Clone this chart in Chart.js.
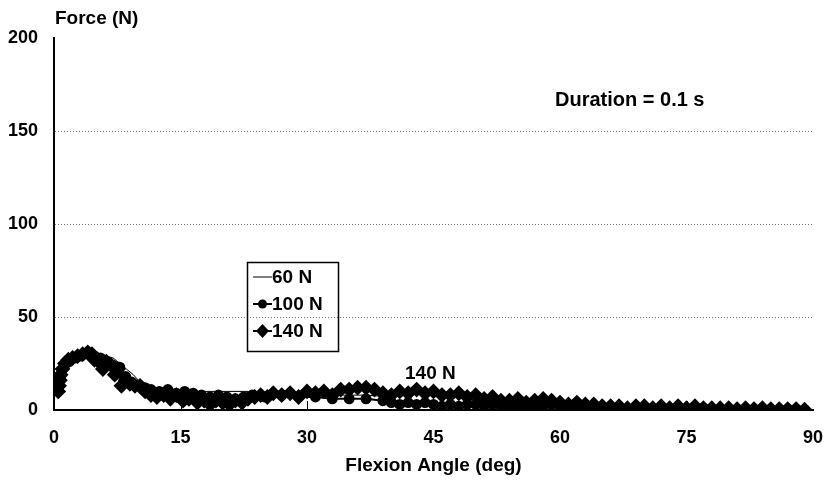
<!DOCTYPE html>
<html>
<head>
<meta charset="utf-8">
<script src="https://cdn.jsdelivr.net/npm/chart.js@4.4.1/dist/chart.umd.min.js"></script>
<style>
  html, body { margin: 0; padding: 0; background: #fff; }
</style>
</head>
<body>
<canvas id="forceChart" width="828" height="485"></canvas>
<script>
// ---- data (flexion angle in deg, force in N) ----
const xTicks = [0, 15, 30, 45, 60, 75, 90];
const yTicks = [0, 50, 100, 150, 200];

const angle60 = [0.5, 0.8, 1.2, 1.8, 2.5, 3.2, 4.0, 5.0, 5.6, 6.2, 7.0, 7.8, 8.6, 9.4, 10, 11, 12, 13, 14, 15, 23, 23.5, 25, 28, 31, 34, 37, 40, 41, 45, 48, 50, 55, 56, 60, 61, 65, 70, 75, 80, 85, 89];
const force60 = [11, 17, 22, 25, 27, 29, 30, 31, 30, 29, 28, 25, 22, 19, 16, 13, 12, 11, 11, 10, 10, 7, 7, 7, 8, 8, 8, 7, 4, 3, 4, 3, 2, 3, 3, 2, 1, 1, 1, 0.5, 0.5, 0.3];

const angle100 = [0.5, 0.8, 1.2, 1.8, 2.5, 3.2, 4.0, 4.8, 5.5, 6.3, 7.0, 7.8, 8.5, 9.2, 10.0, 10.8, 11.5, 12.5, 13.5, 14.5, 15.5, 16.5, 17.5, 18.5, 19.5, 20.5, 21.5, 22.5, 23.5, 25, 27, 29, 31, 33, 35, 37, 39, 40, 41, 42, 43, 44, 45, 46, 47, 48, 49, 50, 51, 52, 53, 54, 55, 56, 57, 58, 59, 60, 61, 62, 63, 64, 65, 67, 69, 71, 73, 75, 77, 79, 81, 83, 85, 87, 89];
const force100 = [12, 18, 23, 26, 28, 29, 30, 29, 28, 26, 24, 23, 18, 15, 13, 12, 11, 10, 11, 9, 10, 9, 8, 7, 8, 7, 6, 7, 8, 7, 8, 7, 7, 6, 6, 6, 5, 4, 3, 4, 3, 4, 3, 2, 3, 2, 3, 3, 2, 3, 2, 2, 2, 2, 1, 2, 3, 2, 1, 1, 1, 1, 1, 1, 1, 1, 1, 0.5, 1, 0.5, 0.5, 0.5, 0.3, 0.3, 0.2];

const angle140 = [0.5, 0.6, 0.7, 0.8, 1.0, 1.3, 1.7, 2.2, 2.8, 3.4, 4.0, 4.5, 4.8, 5.3, 5.8, 6.2, 6.8, 7.2, 7.6, 8.0, 8.5, 9.0, 9.6, 10.2, 10.8, 11.5, 12.2, 13.0, 13.8, 14.5, 15.3, 16.0, 17.0, 17.8, 18.5, 19.2, 20.0, 20.8, 21.5, 22.3, 23.0, 23.8, 24.5, 25.3, 26, 27, 28, 29, 30, 31, 32, 33, 34, 35, 36, 37, 38, 39, 40, 41, 42, 43, 44, 45, 46, 47, 48, 49, 50, 51, 52, 53, 54, 55, 56, 57, 58, 59, 60, 61, 62, 63, 64, 65, 66, 67, 68, 69, 70, 71, 72, 73, 74, 75, 76, 77, 78, 79, 80, 81, 82, 83, 84, 85, 86, 87, 88, 89];
const force140 = [10, 13, 16, 19, 22, 25, 27, 28, 29, 30, 31, 30, 27, 26, 22, 26, 24, 19, 22, 13, 16, 14, 13, 13, 10, 8, 7, 8, 6, 8, 5, 6, 4, 5, 3, 5, 4, 3, 5, 4, 6, 7, 8, 7, 9, 8, 9, 7, 10, 9, 10, 8, 11, 11, 12, 12, 11, 9, 8, 10, 9, 11, 9, 10, 8, 8, 9, 7, 8, 6, 7, 5, 5, 6, 4, 5, 6, 5, 4, 3, 4, 3, 3, 2, 2, 2, 1, 2, 2, 1, 2, 1, 2, 1, 2, 1, 1, 1, 1, 0.5, 1, 0.5, 1, 0.5, 0.5, 0.5, 0.5, 0.2];

const seriesNames = ['60 N', '100 N', '140 N'];

const FONT = "'Liberation Sans', Arial, sans-serif";

function toPoints(xs, ys) {
  return xs.map((x, i) => ({ x: x, y: ys[i] }));
}

// custom drawing: axis caption, notes, legend box, inward x ticks
const decorations = {
  id: 'decorations',
  afterDraw(chart) {
    const ctx = chart.ctx;
    const xs = chart.scales.x;
    const ys = chart.scales.y;
    ctx.save();

    // inward tick marks on the x axis
    ctx.strokeStyle = '#000';
    ctx.lineWidth = 1;
    xTicks.forEach(t => {
      if (t === 0 || t === 90) return;
      const px = Math.round(xs.getPixelForValue(t)) + 0.5;
      ctx.beginPath();
      ctx.moveTo(px, ys.bottom);
      ctx.lineTo(px, ys.bottom - 9);
      ctx.stroke();
    });

    ctx.fillStyle = '#000';
    ctx.textBaseline = 'middle';
    ctx.textAlign = 'left';
    ctx.font = 'bold 19px ' + FONT;
    ctx.fillText('Force (N)', 55, 19);
    ctx.fillText('140 N', 405, 374);
    ctx.font = 'bold 20px ' + FONT;
    ctx.fillText('Duration = 0.1 s', 555, 100);

    // legend box
    ctx.font = 'bold 19px ' + FONT;
    const bx = 247, by = 262, bw = 91, bh = 89;
    ctx.lineWidth = 1.5;
    ctx.strokeRect(bx + 0.5, by + 0.5, bw, bh);
    const rows = [277, 304, 331];
    rows.forEach((ry, i) => {
      ctx.strokeStyle = '#000';
      ctx.lineWidth = i === 0 ? 1 : 2;
      ctx.beginPath();
      ctx.moveTo(bx + 6, ry);
      ctx.lineTo(bx + 25, ry);
      ctx.stroke();
      ctx.fillStyle = '#000';
      if (i === 1) {
        ctx.beginPath();
        ctx.arc(bx + 15.5, ry, 4.5, 0, Math.PI * 2);
        ctx.fill();
      } else if (i === 2) {
        ctx.beginPath();
        ctx.moveTo(bx + 15.5, ry - 7);
        ctx.lineTo(bx + 22, ry);
        ctx.lineTo(bx + 15.5, ry + 7);
        ctx.lineTo(bx + 9, ry);
        ctx.closePath();
        ctx.fill();
      }
      ctx.fillText(seriesNames[i], bx + 25, ry + 1);
    });
    ctx.restore();
  }
};

new Chart(document.getElementById('forceChart'), {
  type: 'scatter',
  data: {
    datasets: [
      {
        label: seriesNames[0],
        data: toPoints(angle60, force60),
        showLine: true,
        borderColor: '#000',
        borderWidth: 1,
        pointRadius: 0,
        order: 3
      },
      {
        label: seriesNames[1],
        data: toPoints(angle100, force100),
        showLine: true,
        borderColor: '#000',
        backgroundColor: '#000',
        borderWidth: 2,
        pointStyle: 'circle',
        pointRadius: 4.5,
        order: 2
      },
      {
        label: seriesNames[2],
        data: toPoints(angle140, force140),
        showLine: true,
        borderColor: '#000',
        backgroundColor: '#000',
        borderWidth: 2,
        pointStyle: 'rectRot',
        pointRadius: 6.5,
        order: 1
      }
    ]
  },
  options: {
    responsive: false,
    animation: false,
    events: [],
    layout: { padding: { left: 0, right: 15, top: 38, bottom: 0 } },
    plugins: {
      legend: { display: false },
      tooltip: { enabled: false }
    },
    scales: {
      x: {
        type: 'linear',
        min: 0,
        max: 90,
        afterBuildTicks: (scale) => { scale.ticks = xTicks.map(v => ({ value: v })); },
        afterFit: (scale) => {
          scale.height = 75;
          scale.paddingLeft = 0;
          scale.paddingRight = 0;
        },
        grid: { display: false, drawTicks: false },
        border: { display: true, color: '#000', width: 2 },
        ticks: {
          color: '#000',
          padding: 17,
          maxRotation: 0,
          font: { family: FONT, size: 18, weight: 'bold' }
        },
        title: {
          display: true,
          text: 'Flexion Angle (deg)',
          color: '#000',
          padding: { top: 8, bottom: 8 },
          font: { family: FONT, size: 19, weight: 'bold' }
        }
      },
      y: {
        type: 'linear',
        min: 0,
        max: 200,
        afterBuildTicks: (scale) => { scale.ticks = yTicks.map(v => ({ value: v })); },
        afterFit: (scale) => {
          scale.width = 54;
          scale.paddingTop = 0;
          scale.paddingBottom = 0;
        },
        grid: {
          drawTicks: false,
          color: (c) => (c.tick && (c.tick.value === 0 || c.tick.value === 200)) ? 'rgba(0,0,0,0)' : '#777',
          lineWidth: 1
        },
        border: { display: true, color: '#000', width: 2, dash: [1, 2] },
        ticks: {
          color: '#000',
          padding: 16,
          font: { family: FONT, size: 18, weight: 'bold' }
        }
      }
    }
  },
  plugins: [decorations]
});
</script>
</body>
</html>
